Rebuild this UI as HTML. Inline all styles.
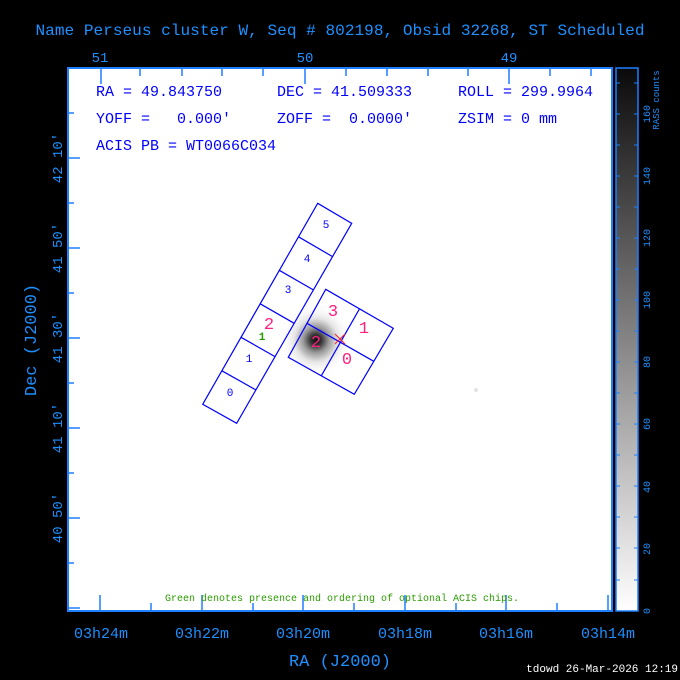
<!DOCTYPE html>
<html><head><meta charset="utf-8"><style>
html,body{margin:0;padding:0;background:#000;}
svg{display:block;}
text{font-family:"Liberation Mono","DejaVu Sans Mono",monospace;white-space:pre;}
</style></head><body>
<svg width="680" height="680" viewBox="0 0 680 680" xmlns="http://www.w3.org/2000/svg">
<defs>
<linearGradient id="cb" x1="0" y1="1" x2="0" y2="0">
<stop offset="0" stop-color="#fff"/><stop offset="1" stop-color="#0a0a0a"/>
</linearGradient>
<radialGradient id="blob">
<stop offset="0" stop-color="#111"/><stop offset="0.15" stop-color="#333"/><stop offset="0.35" stop-color="#999"/><stop offset="0.6" stop-color="#e4e4e4"/><stop offset="1" stop-color="#fff" stop-opacity="0"/>
</radialGradient>
</defs>
<rect width="680" height="680" fill="#000"/>
<text x="340" y="35" fill="#1e90ff" font-size="16" text-anchor="middle" textLength="609" lengthAdjust="spacingAndGlyphs">Name Perseus cluster W, Seq # 802198, Obsid 32268, ST Scheduled</text>
<rect x="68" y="68" width="544" height="543" fill="#fff"/>
<circle cx="316" cy="340" r="36" fill="url(#blob)"/>
<circle cx="476" cy="390" r="2" fill="#e4e4e4"/>
<rect x="68" y="68" width="544" height="543" fill="none" stroke="#1e7fff" stroke-width="2"/>
<g stroke="#1e7fff" stroke-width="1.5">
<path d="M101 68v16M305 68v16M509 68v16M140 68v8M182 68v8M222 68v8M263 68v8M346 68v8M387 68v8M428 68v8M468 68v8M550 68v8M591 68v8"/>
<path d="M100 611v-16M202 611v-16M303 611v-16M405 611v-16M506 611v-16M608 611v-16M151 611v-8M253 611v-8M354 611v-8M456 611v-8M557 611v-8"/>
<path d="M68 158h12M68 248h12M68 338h12M68 428h12M68 518h12M68 608h12M68 113h6M68 203h6M68 293h6M68 383h6M68 473h6M68 563h6"/>
</g>
<g fill="#1e90ff" font-size="14" text-anchor="middle">
<text x="100" y="62">51</text><text x="305" y="62">50</text><text x="509" y="62">49</text>
<text x="101" y="638" font-size="15">03h24m</text><text x="202" y="638" font-size="15">03h22m</text><text x="303" y="638" font-size="15">03h20m</text><text x="405" y="638" font-size="15">03h18m</text><text x="506" y="638" font-size="15">03h16m</text><text x="608" y="638" font-size="15">03h14m</text>
<text x="340" y="666" font-size="17">RA (J2000)</text>
<text transform="translate(36,340) rotate(-90)" font-size="17">Dec (J2000)</text>
<text transform="translate(62,158) rotate(-90)">42 10′</text>
<text transform="translate(62,248) rotate(-90)">41 50′</text>
<text transform="translate(62,338) rotate(-90)">41 30′</text>
<text transform="translate(62,428) rotate(-90)">41 10′</text>
<text transform="translate(62,518) rotate(-90)">40 50′</text>
</g>
<g fill="#0000ff" font-size="15">
<text x="96" y="96">RA = 49.843750</text><text x="277" y="96">DEC = 41.509333</text><text x="458" y="96">ROLL = 299.9964</text>
<text x="96" y="123">YOFF =   0.000′</text><text x="277" y="123">ZOFF =  0.0000′</text><text x="458" y="123">ZSIM = 0 mm</text>
<text x="96" y="150">ACIS PB = WT0066C034</text>
</g>
<text x="342" y="601" fill="#2a9a00" font-size="10" text-anchor="middle">Green denotes presence and ordering of optional ACIS chips.</text>
<g fill="none" stroke="#0000ff" stroke-width="1.2">
<polygon points="317.7,203.3 351.7,223.3 236.7,423.3 202.7,404.3"/>
<line x1="298.5" y1="236.8" x2="332.5" y2="256.6"/>
<line x1="279.3" y1="270.3" x2="313.3" y2="289.9"/>
<line x1="260.2" y1="303.8" x2="294.2" y2="323.3"/>
<line x1="241" y1="337.3" x2="275" y2="356.6"/>
<line x1="221.9" y1="370.8" x2="255.9" y2="389.9"/>
<polygon points="325.7,289.3 393.3,328.3 354.3,394.3 288.3,357.3"/>
<line x1="307" y1="323.3" x2="373.8" y2="361.3"/>
<line x1="359.5" y1="308.8" x2="321.3" y2="375.8"/>
</g>
<g fill="#0000ff" font-size="11" text-anchor="middle">
<text x="230" y="396">0</text><text x="249" y="362">1</text><text x="288" y="293">3</text><text x="307" y="262">4</text><text x="326" y="228">5</text>
</g>
<text x="262" y="340" fill="#2a9a00" font-size="11" font-weight="bold" text-anchor="middle">1</text>
<g fill="#ff1f7f" font-size="17" text-anchor="middle">
<text x="269" y="329">2</text><text x="333" y="316">3</text><text x="364" y="333">1</text><text x="316" y="347">2</text><text x="347" y="364">0</text>
</g>
<path d="M335 334l10 10M345 334l-10 10" stroke="#ff2020" stroke-width="1"/>
<rect x="616" y="68" width="22" height="543" fill="url(#cb)" stroke="#1e7fff" stroke-width="1.5"/>
<g stroke="#1e7fff" stroke-width="1">
<path d="M616 580h4M634 580h4M616 548h4M634 548h4M616 517h4M634 517h4M616 486h4M634 486h4M616 455h4M634 455h4M616 424h4M634 424h4M616 393h4M634 393h4M616 362h4M634 362h4M616 331h4M634 331h4M616 300h4M634 300h4M616 269h4M634 269h4M616 238h4M634 238h4M616 207h4M634 207h4M616 176h4M634 176h4M616 145h4M634 145h4M616 114h4M634 114h4M616 83h4M634 83h4"/>
</g>
<g fill="#1e90ff" font-size="10" text-anchor="middle">
<text transform="translate(650,611) rotate(-90)">0</text>
<text transform="translate(650,549) rotate(-90)">20</text>
<text transform="translate(650,487) rotate(-90)">40</text>
<text transform="translate(650,424) rotate(-90)">60</text>
<text transform="translate(650,362) rotate(-90)">80</text>
<text transform="translate(650,300) rotate(-90)">100</text>
<text transform="translate(650,238) rotate(-90)">120</text>
<text transform="translate(650,176) rotate(-90)">140</text>
<text transform="translate(650,114) rotate(-90)">160</text>
<text transform="translate(659,100) rotate(-90)" font-size="9">RASS counts</text>
</g>
<text x="678" y="672" fill="#fff" font-size="11" text-anchor="end">tdowd 26-Mar-2026 12:19</text>
</svg>
</body></html>
